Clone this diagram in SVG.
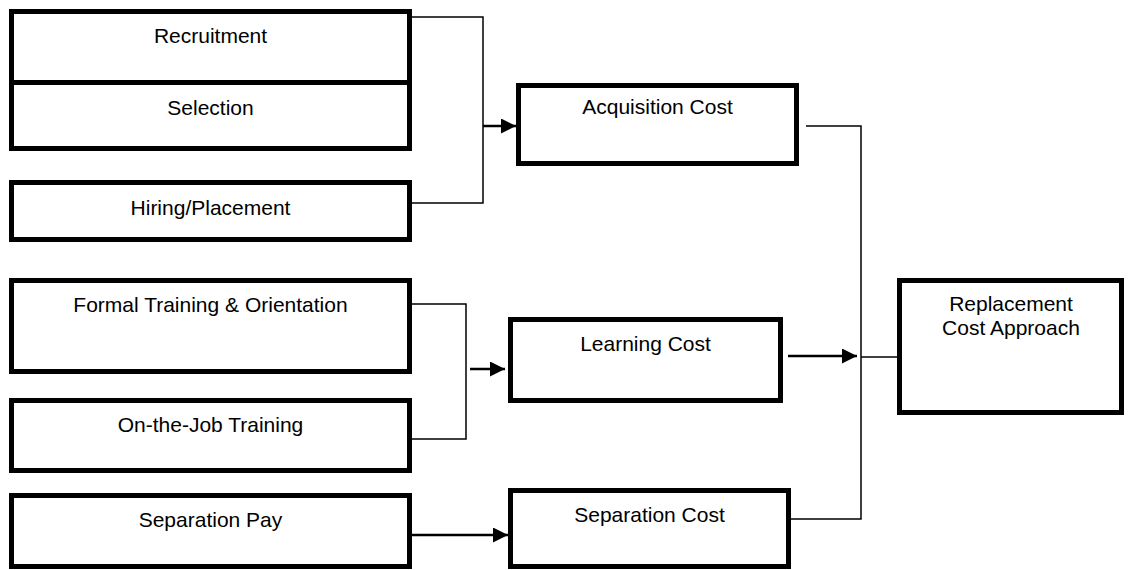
<svg xmlns="http://www.w3.org/2000/svg" width="1128" height="570" viewBox="0 0 1128 570">
<style>
.box{fill:#fff;stroke:#000;stroke-width:5}
.t{font-family:"Liberation Sans",Arial,sans-serif;font-size:21px;fill:#000;text-anchor:middle}
.c{fill:none;stroke:#000;stroke-width:1.5}
.a{fill:none;stroke:#000;stroke-width:2.5}
</style>
<defs>
<marker id="ah" markerUnits="userSpaceOnUse" markerWidth="16" markerHeight="16" refX="15" refY="7.5" orient="auto">
<path d="M0,0 L15,7.5 L0,15 z" fill="#000"/>
</marker>
</defs>
<rect width="1128" height="570" fill="#fff"/>
<g id="connectors">
<polyline class="c" points="412,17 483,17 483,203 412,203"/>
<line class="a" x1="483" y1="126" x2="516" y2="126" marker-end="url(#ah)"/>
<polyline class="c" points="412,304 466,304 466,439 412,439"/>
<line class="a" x1="470" y1="369" x2="505" y2="369" marker-end="url(#ah)"/>
<line class="a" x1="412" y1="535" x2="508" y2="535" marker-end="url(#ah)"/>
<polyline class="c" points="806,126 861,126 861,519 791,519"/>
<line class="a" x1="788" y1="356" x2="857" y2="356" marker-end="url(#ah)"/>
<line class="c" x1="861" y1="357" x2="897" y2="357"/>
</g>
<g id="recruitment"><rect class="box" x="11.5" y="11.5" width="398" height="71"/><text class="t" x="210.5" y="43">Recruitment</text></g>
<g id="selection"><rect class="box" x="11.5" y="82.5" width="398" height="66"/><text class="t" x="210.5" y="115">Selection</text></g>
<g id="hiring"><rect class="box" x="11.5" y="182.5" width="398" height="57"/><text class="t" x="210.5" y="215">Hiring/Placement</text></g>
<g id="formal"><rect class="box" x="11.5" y="280.5" width="398" height="91"/><text class="t" x="210.5" y="312">Formal Training &amp; Orientation</text></g>
<g id="ojt"><rect class="box" x="11.5" y="400.5" width="398" height="70"/><text class="t" x="210.5" y="432">On-the-Job Training</text></g>
<g id="seppay"><rect class="box" x="11.5" y="495.5" width="398" height="71"/><text class="t" x="210.5" y="527">Separation Pay</text></g>
<g id="acquisition"><rect class="box" x="518.5" y="85.5" width="278" height="78"/><text class="t" x="657.5" y="114">Acquisition Cost</text></g>
<g id="learning"><rect class="box" x="510.5" y="319.5" width="270" height="81"/><text class="t" x="645.5" y="351">Learning Cost</text></g>
<g id="sepcost"><rect class="box" x="510.5" y="490.5" width="278" height="76"/><text class="t" x="649.5" y="522">Separation Cost</text></g>
<g id="replacement"><rect class="box" x="899.5" y="280.5" width="222" height="132"/><text class="t" x="1011" y="311">Replacement</text><text class="t" x="1011" y="335">Cost Approach</text></g>
</svg>
